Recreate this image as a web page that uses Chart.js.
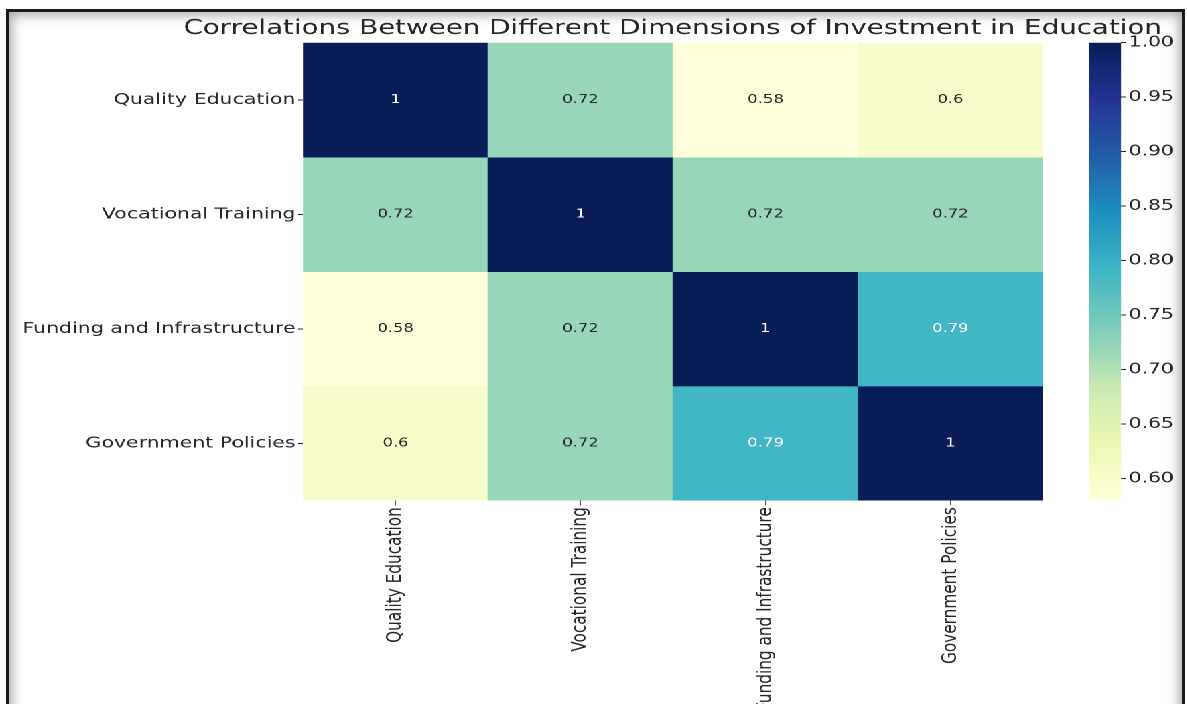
<!DOCTYPE html>
<html>
<head>
<meta charset="utf-8">
<script src="https://cdn.jsdelivr.net/npm/chart.js@4.4.0/dist/chart.umd.min.js"></script>
<style>
    html, body { margin: 0; padding: 0; background: #fff; overflow: hidden; }
    body { width: 1187px; height: 704px; position: relative; }
    #frame {
        position: absolute; left: 6px; top: 9px; width: 1173px; height: 720px;
        border: 3px solid #1a1a1a; background: #fff;
        box-shadow: inset 0 0 12px 3px rgba(0, 0, 0, 0.35);
    }
    /* the reference is stretched horizontally, so the whole drawing is too */
    #wrap {
        position: absolute; left: 0; top: 0; width: 886px; height: 704px;
        transform-origin: 0 0; transform: scaleX(1.34);
    }
    #wrap canvas { position: absolute; top: 0; }
    #heat { left: 0; }
    #cbar { left: 800px; }
</style>
</head>
<body>
<div id="frame"></div>
<div id="wrap">
    <canvas id="heat" width="1004" height="704"></canvas>
    <canvas id="cbar" width="86" height="704"></canvas>
</div>
<script>
// 데이터
const dimensions = ["Quality Education", "Vocational Training", "Funding and Infrastructure", "Government Policies"];
const corrQuality = [1, 0.72, 0.58, 0.6];
const corrVocational = [0.72, 1, 0.72, 0.72];
const corrFunding = [0.58, 0.72, 1, 0.79];
const corrPolicies = [0.6, 0.72, 0.79, 1];
const colorbarTicks = [0.6, 0.65, 0.7, 0.75, 0.8, 0.85, 0.9, 0.95, 1.0];
const vmin = 0.58;
const vmax = 1.0;
const chartTitle = "Correlations Between Different Dimensions of Investment in Education";

const rows = [corrQuality, corrVocational, corrFunding, corrPolicies];

Chart.defaults.font.family = "DejaVu Sans";
Chart.defaults.color = "#262626";

// YlGnBu colormap
const ylgnbuStops = ["#ffffd9", "#edf8b1", "#c7e9b4", "#7fcdbb", "#41b6c4", "#1d91c0", "#225ea8", "#253494", "#081d58"];

function hexToRgb(h) {
    return [parseInt(h.slice(1, 3), 16), parseInt(h.slice(3, 5), 16), parseInt(h.slice(5, 7), 16)];
}

function ylgnbu(v) {
    let t = (v - vmin) / (vmax - vmin);
    t = Math.min(1, Math.max(0, t));
    const p = t * (ylgnbuStops.length - 1);
    const i = Math.min(Math.floor(p), ylgnbuStops.length - 2);
    const f = p - i;
    const a = hexToRgb(ylgnbuStops[i]);
    const b = hexToRgb(ylgnbuStops[i + 1]);
    return a.map((c, k) => Math.round(c + (b[k] - c) * f));
}

function luminance(rgb) {
    const lin = rgb.map((c) => {
        c = c / 255;
        return c <= 0.03928 ? c / 12.92 : Math.pow((c + 0.055) / 1.055, 2.4);
    });
    return 0.2126 * lin[0] + 0.7152 * lin[1] + 0.0722 * lin[2];
}

// '.2g' 형식
function fmt(v) {
    return String(Number(v.toPrecision(2)));
}

// 셀 안의 숫자
const cellLabelPlugin = {
    id: "cellLabels",
    afterDatasetsDraw(chart) {
        const { ctx } = chart;
        ctx.save();
        ctx.font = '12.2px "DejaVu Sans"';
        ctx.textAlign = "center";
        ctx.textBaseline = "middle";
        chart.data.datasets.forEach((ds, i) => {
            chart.getDatasetMeta(i).data.forEach((bar, j) => {
                const v = ds.corr[j];
                ctx.fillStyle = luminance(ylgnbu(v)) > 0.408 ? "#262626" : "#ffffff";
                ctx.fillText(fmt(v), bar.x, (bar.y + bar.base) / 2);
            });
        });
        ctx.restore();
    },
};

// an empty right axis as wide as the label axis keeps the title centred over the cells
new Chart(document.getElementById("heat"), {
    type: "bar",
    data: {
        labels: dimensions,
        datasets: rows.map((vals, i) => ({
            label: dimensions[i],
            corr: vals,
            data: vals.map(() => 1),
            backgroundColor: vals.map((v) => "rgb(" + ylgnbu(v).join(",") + ")"),
            borderWidth: 0,
            barPercentage: 1,
            categoryPercentage: 1,
        })),
    },
    options: {
        responsive: false,
        animation: false,
        devicePixelRatio: 2,
        layout: { padding: 0 },
        plugins: {
            legend: { display: false },
            tooltip: { enabled: false },
            title: {
                display: true,
                text: chartTitle,
                color: "#262626",
                font: { size: 20.65, weight: "normal" },
                padding: { top: 16.4, bottom: 1.6 },
            },
        },
        scales: {
            x: {
                stacked: true,
                border: { display: false },
                grid: { offset: false, drawOnChartArea: false, tickLength: 4.7, tickWidth: 0.8, color: "#262626" },
                ticks: { minRotation: 90, maxRotation: 90, autoSkip: false, padding: 2, font: { size: 15.3 }, color: "#262626" },
                afterFit: (s) => { s.height = 203.5; },
            },
            y: {
                stacked: true,
                reverse: true,
                min: 0,
                max: 4,
                border: { display: false },
                grid: { drawOnChartArea: false, tickLength: 3.7, tickWidth: 1, color: "#262626" },
                afterBuildTicks: (s) => { s.ticks = dimensions.map((d, i) => ({ value: i + 0.5 })); },
                ticks: {
                    padding: 1.8,
                    font: { size: 15.3 },
                    color: "#262626",
                    callback: (v, i) => dimensions[i],
                },
                afterFit: (s) => { s.width = 226.1; },
            },
            spacer: {
                type: "linear",
                position: "right",
                border: { display: false },
                grid: { display: false },
                ticks: { display: false },
                afterFit: (s) => { s.width = 225.6; },
            },
        },
    },
    plugins: [cellLabelPlugin],
});

// 컬러바
new Chart(document.getElementById("cbar"), {
    type: "bar",
    data: {
        labels: [""],
        datasets: [
            {
                data: [[vmin, vmax]],
                borderWidth: 0,
                barPercentage: 1,
                categoryPercentage: 1,
                backgroundColor: (c) => {
                    const area = c.chart.chartArea;
                    if (!area) return "#ffffd9";
                    const g = c.chart.ctx.createLinearGradient(0, area.bottom, 0, area.top);
                    ylgnbuStops.forEach((col, i) => g.addColorStop(i / (ylgnbuStops.length - 1), col));
                    return g;
                },
            },
        ],
    },
    options: {
        responsive: false,
        animation: false,
        devicePixelRatio: 2,
        layout: { padding: { left: 12.7, right: 0, top: 42.7, bottom: 203.5 } },
        plugins: { legend: { display: false }, tooltip: { enabled: false } },
        scales: {
            x: { display: false },
            y: {
                position: "right",
                min: vmin,
                max: vmax,
                border: { display: false },
                grid: { drawOnChartArea: false, tickLength: 3.7, tickWidth: 1, color: "#262626" },
                afterBuildTicks: (s) => { s.ticks = colorbarTicks.map((v) => ({ value: v })); },
                ticks: {
                    padding: 1.9,
                    font: { size: 15.2 },
                    color: "#262626",
                    callback: (v) => v.toFixed(2),
                },
                afterFit: (s) => { s.width = 49.4; },
            },
        },
    },
});
</script>
</body>
</html>
